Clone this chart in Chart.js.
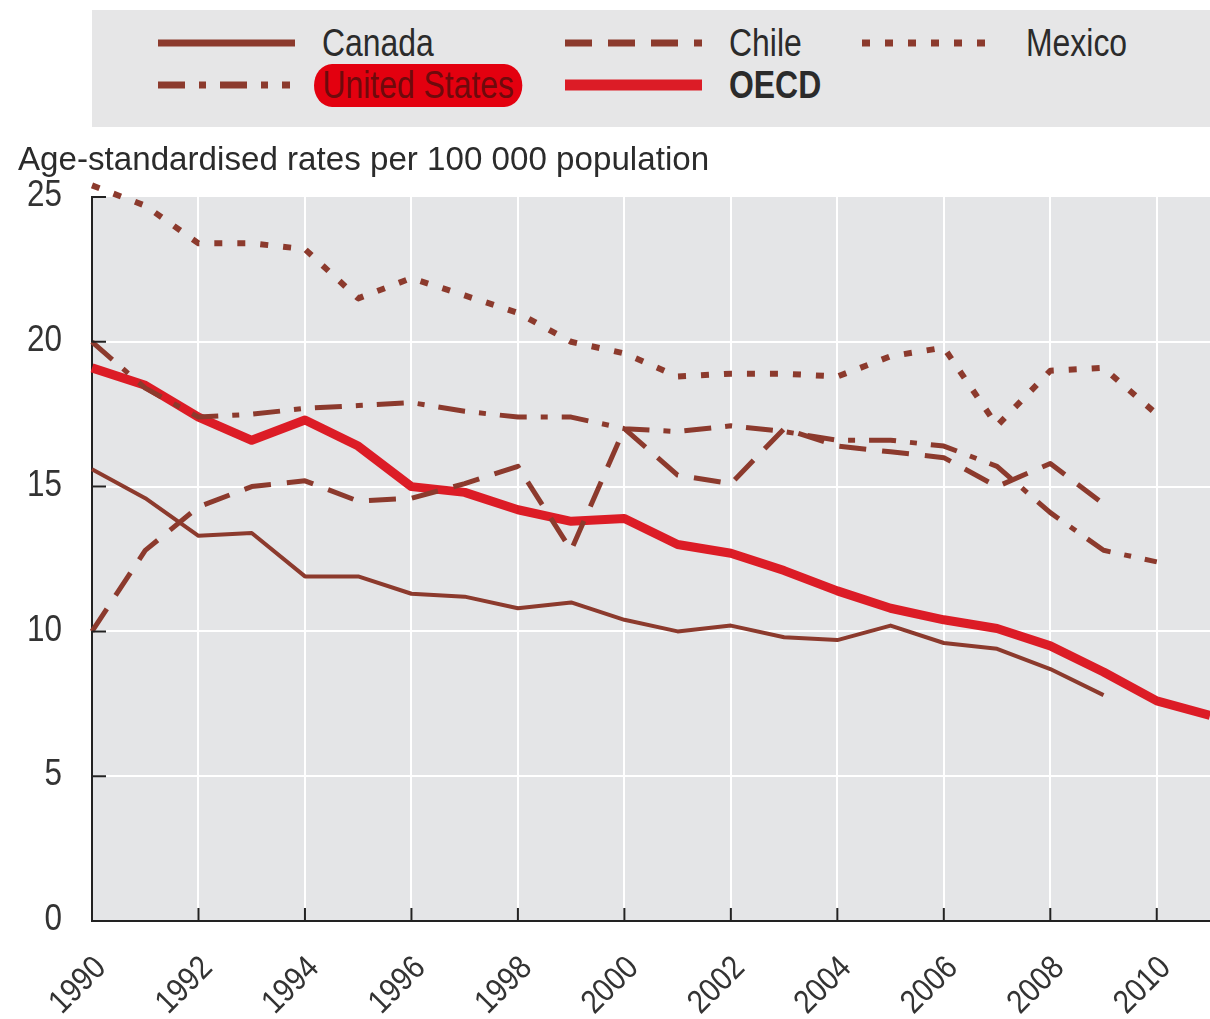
<!DOCTYPE html>
<html>
<head>
<meta charset="utf-8">
<script src="https://cdn.jsdelivr.net/npm/chart.js@4.4.0/dist/chart.umd.min.js"></script>
<style>
    html, body { margin: 0; padding: 0; background: #fff; }
    body { width: 1210px; height: 1019px; position: relative; overflow: hidden;
           font-family: 'Liberation Sans', Arial, sans-serif; color: #2b2b2b; }
    #legend { position: absolute; left: 92px; top: 10px; width: 1118px; height: 117px; background: #e6e6e7; }
    .item { position: absolute; height: 42px; display: flex; align-items: center; font-size: 38px; }
    .item svg { display: block; flex: none; }
    .item span { margin-left: 27px; display: inline-block; transform: scaleX(0.84); transform-origin: left center; white-space: nowrap; }
    .item span.us-label { background: #e3000f; color: #6e0a0c; border-radius: 22px; padding: 0 10px; margin-left: 24px; transform: scaleX(0.84); }
    #ytitle { position: absolute; left: 18px; top: 139px; font-size: 34px; white-space: nowrap;
              transform: scaleX(0.975); transform-origin: left top; }
    #wrap { position: absolute; left: 0; top: 0; width: 1210px; height: 1019px; }
</style>
</head>
<body>
<div id="wrap"><canvas id="chart" width="1210" height="1019"></canvas></div>
<div id="legend"></div>
<div id="ytitle">Age-standardised rates per 100 000 population</div>
<script>
const years = [1990, 1991, 1992, 1993, 1994, 1995, 1996, 1997, 1998, 1999, 2000,
               2001, 2002, 2003, 2004, 2005, 2006, 2007, 2008, 2009, 2010, 2011];
const canada = [15.6, 14.6, 13.3, 13.4, 11.9, 11.9, 11.3, 11.2, 10.8, 11.0, 10.4,
                10.0, 10.2, 9.8, 9.7, 10.2, 9.6, 9.4, 8.7, 7.8, null, null];
const chile = [10.0, 12.8, 14.3, 15.0, 15.2, 14.5, 14.6, 15.1, 15.7, 12.8, 17.0,
               15.4, 15.1, 17.0, 16.4, 16.2, 16.0, 15.0, 15.8, 14.4, null, null];
const mexico = [25.4, 24.7, 23.4, 23.4, 23.2, 21.5, 22.2, 21.6, 21.0, 20.0, 19.6,
                18.8, 18.9, 18.9, 18.8, 19.5, 19.8, 17.1, 19.0, 19.1, 17.5, null];
const unitedStates = [20.0, 18.4, 17.4, 17.5, 17.7, 17.8, 17.9, 17.6, 17.4, 17.4, 17.0,
                      16.9, 17.1, 16.9, 16.6, 16.6, 16.4, 15.7, 14.1, 12.8, 12.4, null];
const oecd = [19.1, 18.5, 17.4, 16.6, 17.3, 16.4, 15.0, 14.8, 14.2, 13.8, 13.9,
              13.0, 12.7, 12.1, 11.4, 10.8, 10.4, 10.1, 9.5, 8.6, 7.6, 7.1];
const yTicks = [0, 5, 10, 15, 20, 25];

const BROWN = '#8c3a2d';
const RED = '#dc1c26';
const FONT = "'Liberation Sans', Arial, sans-serif";

const series = [
    { label: 'Canada', data: canada, color: BROWN, width: 4, dash: [] },
    { label: 'Chile', data: chile, color: BROWN, width: 5, dash: [27, 16] },
    { label: 'Mexico', data: mexico, color: BROWN, width: 6, dash: [8, 15] },
    { label: 'United States', data: unitedStates, color: BROWN, width: 5, dash: [27, 14, 7, 14] },
    { label: 'OECD', data: oecd, color: RED, width: 9, dash: [] }
];

function points(arr) {
    return years.map((y, i) => ({ x: y, y: arr[i] }));
}

// grey plot background, inner tick marks, condensed tick labels
const plotDecor = {
    id: 'plotDecor',
    beforeDraw(chart) {
        const a = chart.chartArea;
        const ctx = chart.ctx;
        ctx.save();
        ctx.fillStyle = '#e4e5e7';
        ctx.fillRect(a.left, a.top, a.right - a.left, a.bottom - a.top);
        ctx.restore();
    },
    afterDraw(chart) {
        const a = chart.chartArea;
        const ctx = chart.ctx;
        const xs = chart.scales.x, ys = chart.scales.y;
        ctx.save();
        ctx.strokeStyle = '#222';
        ctx.lineWidth = 2;
        ctx.beginPath();
        xs.ticks.forEach(t => {
            if (t.value === years[0]) return;
            const px = xs.getPixelForValue(t.value);
            ctx.moveTo(px, a.bottom);
            ctx.lineTo(px, a.bottom - 13);
        });
        ys.ticks.forEach(t => {
            if (t.value === 0) return;
            const py = ys.getPixelForValue(t.value);
            ctx.moveTo(a.left, py);
            ctx.lineTo(a.left + 14, py);
        });
        ctx.stroke();

        ctx.fillStyle = '#333';
        // y labels
        ctx.font = '37px ' + FONT;
        ctx.textAlign = 'right';
        ctx.textBaseline = 'middle';
        ys.ticks.forEach(t => {
            const py = ys.getPixelForValue(t.value);
            ctx.save();
            ctx.translate(a.left - 30, py - 1);
            ctx.scale(0.85, 1);
            ctx.fillText(String(t.value), 0, 0);
            ctx.restore();
        });
        // x labels, rotated 45deg
        ctx.font = '33px ' + FONT;
        ctx.textAlign = 'right';
        ctx.textBaseline = 'middle';
        xs.ticks.forEach(t => {
            const px = xs.getPixelForValue(t.value);
            ctx.save();
            ctx.translate(px + 9, a.bottom + 42);
            ctx.rotate(-Math.PI / 4);
            ctx.scale(0.88, 1);
            ctx.fillText(String(t.value), 0, 0);
            ctx.restore();
        });
        ctx.restore();
    }
};

const ctx = document.getElementById('chart').getContext('2d');
const chart = new Chart(ctx, {
    type: 'line',
    data: {
        datasets: series.map(s => ({
            label: s.label,
            data: points(s.data),
            borderColor: s.color,
            borderWidth: s.width,
            borderDash: s.dash,
            borderCapStyle: 'butt',
            borderJoinStyle: 'round',
            pointRadius: 0,
            tension: 0,
            fill: false,
            clip: false
        }))
    },
    options: {
        responsive: false,
        animation: false,
        layout: { padding: { top: 197, right: 0, left: 0, bottom: 0 } },
        plugins: { legend: { display: false }, tooltip: { enabled: false } },
        scales: {
            x: {
                type: 'linear',
                min: 1990,
                max: 2011,
                afterFit(scale) { scale.height = 98; },
                border: { display: true, color: '#222', width: 2 },
                grid: {
                    drawTicks: false,
                    lineWidth: 2,
                    color: c => (c.tick && c.tick.value === 1990 ? 'rgba(0,0,0,0)' : '#ffffff')
                },
                ticks: {
                    stepSize: 2,
                    includeBounds: false,
                    display: false
                }
            },
            y: {
                min: 0,
                max: 25,
                afterFit(scale) { scale.width = 92; },
                afterBuildTicks(scale) { scale.ticks = yTicks.map(v => ({ value: v })); },
                border: { display: true, color: '#222', width: 2 },
                grid: {
                    drawTicks: false,
                    lineWidth: 2,
                    color: c => (c.tick && (c.tick.value === 0 || c.tick.value === 25) ? 'rgba(0,0,0,0)' : '#ffffff')
                },
                ticks: { display: false }
            }
        }
    },
    plugins: [plotDecor]
});

// legend drawn as html with svg line samples
const legendPos = [
    { left: 66, top: 12 },
    { left: 473, top: 12 },
    { left: 770, top: 12 },
    { left: 66, top: 54 },
    { left: 473, top: 54 }
];
const legend = document.getElementById('legend');
series.forEach((s, i) => {
    const el = document.createElement('div');
    el.className = 'item';
    el.style.left = legendPos[i].left + 'px';
    el.style.top = legendPos[i].top + 'px';
    const w = i === 3 ? 132 : 137;
    el.innerHTML = '<svg width="' + w + '" height="20"><line x1="0" y1="10" x2="' + w + '" y2="10" stroke="' + s.color +
        '" stroke-width="' + (i === 4 ? 11 : 7) + '" stroke-dasharray="' + (s.dash.length ? s.dash.join(',') : 'none') + '"/></svg>';
    const span = document.createElement('span');
    span.textContent = s.label;
    if (i === 3) span.className = 'us-label';
    if (i === 4) span.style.fontWeight = 'bold';
    el.appendChild(span);
    legend.appendChild(el);
});
</script>
</body>
</html>
